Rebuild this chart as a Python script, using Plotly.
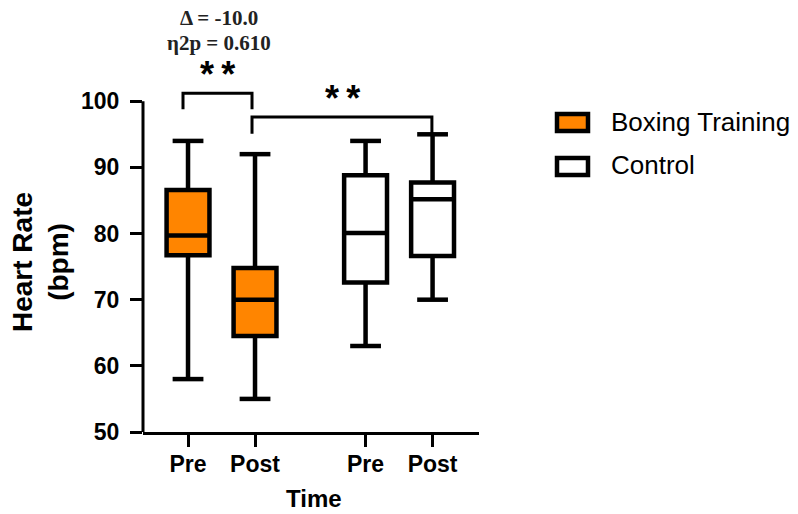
import plotly.graph_objects as go

# ---- data ----
groups = ["Boxing Training", "Control"]
times = ["Pre", "Post"]
lowerfence = {"Boxing Training": [58, 55], "Control": [63, 70]}
q1 = {"Boxing Training": [76.7, 64.5], "Control": [72.6, 76.6]}
median = {"Boxing Training": [79.7, 70.0], "Control": [80.1, 85.2]}
q3 = {"Boxing Training": [86.6, 74.8], "Control": [88.8, 87.7]}
upperfence = {"Boxing Training": [94, 92], "Control": [94, 95]}
y_ticks = [50, 60, 70, 80, 90, 100]
delta_text = "Δ = -10.0"
eta_text = "η2p = 0.610"
sig_text = "*\u2009*"

# ---- layout constants ----
W, H = 798, 514
L, R, T, B = 143, 319, 2, 82
PW, PH = W - L - R, H - T - B
XR = [0.328, 5.343]
YR = [50, 115]
fills = {"Boxing Training": "#FF8500", "Control": "#FFFFFF"}
group_offset = {"Boxing Training": 1.0, "Control": 3.65}

def px_x(px):
    return (px - L) / PW

def px_y(py):
    return (H - B - py) / PH

SANS = "Liberation Sans"
SERIF = "Liberation Serif"

fig = go.Figure()
xs_all = []
for g in groups:
    xs = [group_offset[g] + i for i in range(len(times))]
    xs_all += xs
    fig.add_trace(go.Box(
        x=xs, q1=q1[g], median=median[g], q3=q3[g],
        lowerfence=lowerfence[g], upperfence=upperfence[g],
        width=0.64, fillcolor=fills[g], whiskerwidth=0,
        line=dict(color="black", width=4.5), boxpoints=False,
        showlegend=False, hoverinfo="skip", name=g))
    fig.add_trace(go.Scatter(
        x=xs + xs, y=lowerfence[g] + upperfence[g], mode="markers",
        marker=dict(symbol="line-ew", size=22, line=dict(color="black", width=4.5)),
        showlegend=False, hoverinfo="skip"))

shapes = []
# y axis line
shapes.append(dict(type="line", xref="x domain", yref="y", x0=0, x1=0, y0=50, y1=100,
                   line=dict(color="black", width=3)))
# significance brackets
def bracket(x0, x1, ytop, yleg):
    return [dict(type="path", xref="x", yref="y",
                 path=f"M {x0},{yleg} L {x0},{ytop} L {x1},{ytop} L {x1},{yleg}",
                 line=dict(color="black", width=3))]
shapes += bracket(0.925, 1.955, 101.2, 98.8)
shapes += bracket(1.955, 4.64, 97.6, 95.1)

# manual legend
annotations = []
leg_rows = [(114, 131, 122), (158, 175, 165)]
for g, (y0, y1, yc) in zip(groups, leg_rows):
    shapes.append(dict(type="rect", xref="paper", yref="paper",
                       x0=px_x(557), x1=px_x(588), y0=px_y(y1), y1=px_y(y0),
                       fillcolor=fills[g], line=dict(color="black", width=4.5)))
    annotations.append(dict(xref="paper", yref="paper", x=px_x(609), y=px_y(yc),
                            text=g, showarrow=False, xanchor="left", yanchor="middle",
                            font=dict(family=SANS, size=26, color="black")))

annotations += [
    dict(xref="x", yref="y", x=1.462, y=112.6, text=delta_text, showarrow=False,
         xanchor="center", yanchor="middle",
         font=dict(family=SERIF, size=21, color="#222", weight=700)),
    dict(xref="x", yref="y", x=1.462, y=108.8, text=eta_text, showarrow=False,
         xanchor="center", yanchor="middle",
         font=dict(family=SERIF, size=21, color="#222", weight=700)),
    dict(xref="x", yref="y", x=1.44, y=104.0, text=sig_text, showarrow=False,
         xanchor="center", yanchor="middle",
         font=dict(family=SANS, size=36, color="black", weight=700)),
    dict(xref="x", yref="y", x=3.30, y=100.4, text=sig_text, showarrow=False,
         xanchor="center", yanchor="middle",
         font=dict(family=SANS, size=36, color="black", weight=700)),
    dict(xref="paper", yref="paper", x=px_x(40), y=px_y(262), text="Heart Rate<br>(bpm)",
         textangle=-90, showarrow=False, xanchor="center", yanchor="middle",
         font=dict(family=SANS, size=28, color="black", weight=700)),
    dict(xref="paper", yref="paper", x=px_x(314), y=px_y(499), text="Time",
         showarrow=False, xanchor="center", yanchor="middle",
         font=dict(family=SANS, size=24, color="black", weight=700)),
]

fig.update_layout(
    width=W, height=H, margin=dict(l=L, r=R, t=T, b=B, autoexpand=False),
    plot_bgcolor="white", paper_bgcolor="white",
    shapes=shapes, annotations=annotations, showlegend=False,
    xaxis=dict(range=XR, tickvals=xs_all, ticktext=times * len(groups),
               showline=True, linecolor="black", linewidth=3, ticks="outside",
               ticklen=12, tickwidth=3, tickcolor="black", showgrid=False,
               zeroline=False, ticklabelstandoff=-3,
               tickfont=dict(family=SANS, size=23, color="black", weight=700)),
    yaxis=dict(range=YR, tickvals=y_ticks, showline=False, ticks="outside",
               ticklen=12, tickwidth=3, tickcolor="black", showgrid=False,
               zeroline=False, ticklabelstandoff=6,
               tickfont=dict(family=SANS, size=23, color="black", weight=700)),
)

fig.write_html("out.html", config={"displayModeBar": False},
               post_script="document.body.style.margin='0';")
